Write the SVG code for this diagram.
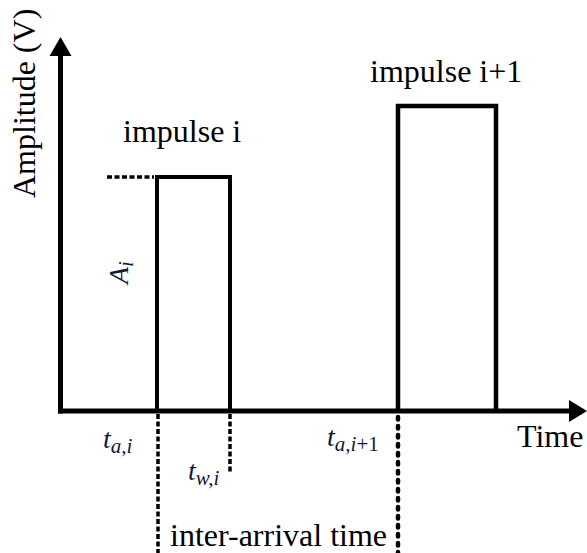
<svg xmlns="http://www.w3.org/2000/svg" width="587" height="553" viewBox="0 0 587 553">
<style>
  text { font-family: "Liberation Serif", "Times New Roman", serif; }
  .lbl { font-size: 32px; fill: #000; }
  .math { font-size: 28px; font-style: italic; fill: #141a3a; }
  .sub { font-size: 21px; }
  .up { font-style: normal; }
  .solid { stroke: #000; fill: none; }
  .dash { stroke: #000; stroke-width: 3.5; stroke-dasharray: 5 2.5; fill: none; }
  .dot { stroke: #000; stroke-width: 4.5; stroke-dasharray: 2.5 6.5; stroke-linecap: round; fill: none; }
</style>
<rect width="587" height="553" fill="#fff"/>
<g id="axes">
  <line class="solid" x1="60.5" y1="413.5" x2="60.5" y2="54" stroke-width="5"/>
  <polygon points="60.5,37 49.5,56 71.5,56" fill="#000"/>
  <line class="solid" x1="58" y1="411" x2="571" y2="411" stroke-width="5"/>
  <polygon points="587,411 569,400 569,422" fill="#000"/>
  <text class="lbl" transform="translate(35,198) rotate(-90)">Amplitude (V)</text>
  <text class="lbl" x="517" y="447">Time</text>
</g>
<g id="impulse-i">
  <polyline class="solid" points="157,411 157,177 230,177 230,411" stroke-width="4"/>
  <text class="lbl" x="123" y="142">impulse i</text>
</g>
<g id="impulse-i1">
  <polyline class="solid" points="398,411 398,106 496,106 496,411" stroke-width="4.5"/>
  <text class="lbl" x="370" y="82">impulse i+1</text>
</g>
<g id="connectors">
  <line class="dash" x1="107" y1="177" x2="154" y2="177" stroke-width="3" stroke-dasharray="8 3.5"/>
  <line class="dash" x1="158" y1="414" x2="158" y2="553"/>
  <line class="dash" x1="230" y1="414" x2="230" y2="474"/>
  <line class="dot" x1="398" y1="417" x2="398" y2="553"/>
</g>
<g id="labels">
  <text class="math" transform="translate(128,284) rotate(-90)">A<tspan class="sub" dy="5">i</tspan></text>
  <text class="math" x="103" y="448">t<tspan class="sub" dy="5">a,i</tspan></text>
  <text class="math" x="188" y="480">t<tspan class="sub" dy="5">w,i</tspan></text>
  <text class="math" x="327" y="446">t<tspan class="sub" dy="5">a,i<tspan class="up">+1</tspan></tspan></text>
  <text class="lbl" x="170" y="546">inter-arrival time</text>
</g>
</svg>
